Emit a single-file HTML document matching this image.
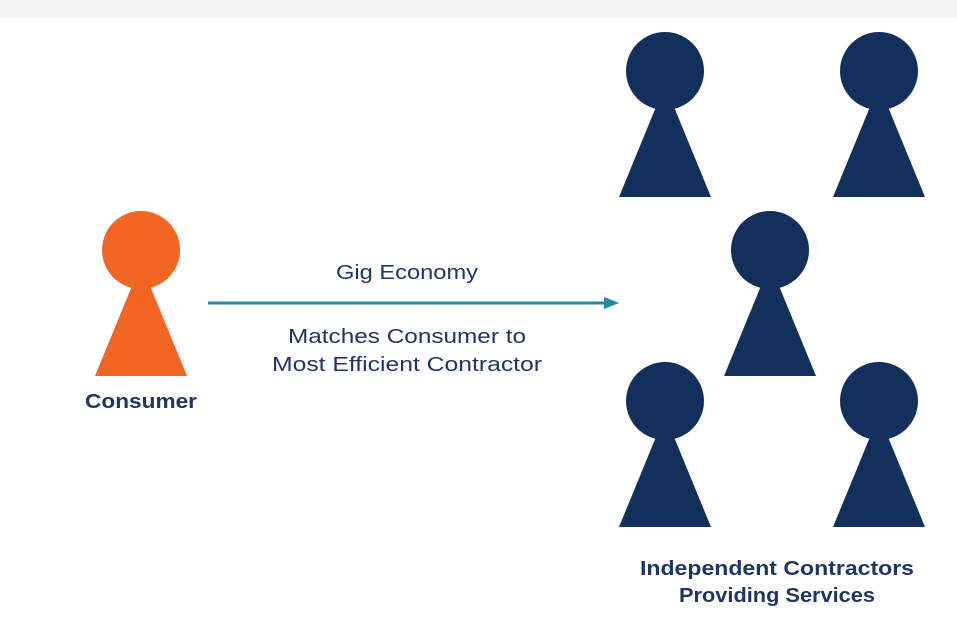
<!DOCTYPE html>
<html><head><style>
html,body{margin:0;padding:0;background:#fff;}
svg{display:block;}
text{font-family:"Liberation Sans",sans-serif;fill:#1f3566;}
</style></head><body>
<svg width="957" height="621" viewBox="0 0 957 621" xmlns="http://www.w3.org/2000/svg">
<rect x="0" y="0" width="957" height="621" fill="#fff"/>
<rect x="0" y="0" width="957" height="18" fill="#f3f4f3"/>
<defs>
<g id="p">
<circle cx="0" cy="0" r="39"/>
<polygon points="-46,126 46,126 0,14"/>
</g>
</defs>
<g fill="#f26522"><use href="#p" x="141" y="250"/></g>
<g fill="#13305c">
<use href="#p" x="665" y="71"/>
<use href="#p" x="879" y="71"/>
<use href="#p" x="770" y="250"/>
<use href="#p" x="665" y="401"/>
<use href="#p" x="879" y="401"/>
</g>
<line x1="208" y1="303" x2="608" y2="303" stroke="#1f8a9c" stroke-width="3"/>
<polygon points="604,297 619,303 604,309" fill="#1f8a9c"/>
<text x="407" y="279" font-size="20" text-anchor="middle" textLength="142" lengthAdjust="spacingAndGlyphs">Gig Economy</text>
<text x="407" y="343" font-size="20" text-anchor="middle" textLength="238" lengthAdjust="spacingAndGlyphs">Matches Consumer to</text>
<text x="407" y="371" font-size="20" text-anchor="middle" textLength="270" lengthAdjust="spacingAndGlyphs">Most Efficient Contractor</text>
<text x="141" y="408" font-size="20" font-weight="bold" text-anchor="middle" textLength="112" lengthAdjust="spacingAndGlyphs">Consumer</text>
<text x="777" y="575" font-size="20" font-weight="bold" text-anchor="middle" textLength="274" lengthAdjust="spacingAndGlyphs">Independent Contractors</text>
<text x="777" y="602" font-size="20" font-weight="bold" text-anchor="middle" textLength="196" lengthAdjust="spacingAndGlyphs">Providing Services</text>
</svg>
</body></html>
